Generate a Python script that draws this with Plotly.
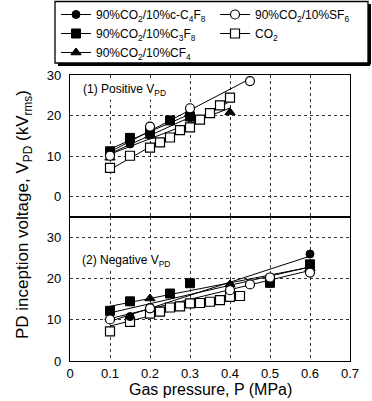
import numpy as np
import plotly.graph_objects as go
from plotly.subplots import make_subplots

# Axis ticks
pressure_ticks = [0, 0.1, 0.2, 0.3, 0.4, 0.5, 0.6, 0.7]
pressure_labels = ["0", "0.1", "0.2", "0.3", "0.4", "0.5", "0.6", "0.7"]
voltage_ticks = [0, 10, 20, 30]

# Gas mixtures (legend labels)
gas_c4f8 = "90%CO<sub>2</sub>/10%c-C<sub>4</sub>F<sub>8</sub>"
gas_c3f8 = "90%CO<sub>2</sub>/10%C<sub>3</sub>F<sub>8</sub>"
gas_cf4 = "90%CO<sub>2</sub>/10%CF<sub>4</sub>"
gas_sf6 = "90%CO<sub>2</sub>/10%SF<sub>6</sub>"
gas_co2 = "CO<sub>2</sub>"

# (1) Positive PD inception voltage, kVrms
pos_c4f8_p = [0.1, 0.15, 0.2, 0.3]
pos_c4f8_v = [10.5, 13.0, 15.2, 19.5]
pos_c3f8_p = [0.1, 0.15, 0.2, 0.25, 0.3]
pos_c3f8_v = [11.2, 14.5, 16.0, 18.8, 19.8]
pos_cf4_p = [0.1, 0.2, 0.3, 0.4]
pos_cf4_v = [9.6, 15.0, 19.3, 20.8]
pos_sf6_p = [0.1, 0.2, 0.3, 0.45]
pos_sf6_v = [10.1, 17.3, 21.8, 28.5]
pos_co2_p = [0.1, 0.15, 0.2, 0.225, 0.25, 0.275, 0.3, 0.325, 0.35, 0.375, 0.4]
pos_co2_v = [7.1, 10.1, 12.1, 13.4, 14.6, 16.4, 17.1, 19.0, 20.6, 22.5, 24.4]

# (2) Negative PD inception voltage, kVrms
neg_c4f8_p = [0.1, 0.15, 0.2, 0.4, 0.6]
neg_c4f8_v = [10.2, 10.8, 13.0, 18.3, 26.0]
neg_c3f8_p = [0.1, 0.15, 0.25, 0.3, 0.5, 0.6]
neg_c3f8_v = [12.2, 14.5, 16.4, 18.9, 19.0, 23.5]
neg_cf4_p = [0.1, 0.2, 0.4, 0.6]
neg_cf4_v = [10.6, 15.2, 18.6, 22.5]
neg_sf6_p = [0.1, 0.2, 0.4, 0.45, 0.5, 0.6]
neg_sf6_v = [10.1, 12.8, 17.2, 18.6, 20.3, 21.5]
neg_co2_p = [0.1, 0.15, 0.2, 0.225, 0.25, 0.275, 0.3, 0.325, 0.35, 0.375, 0.4, 0.425]
neg_co2_v = [7.2, 9.5, 11.5, 12.0, 13.0, 13.3, 14.0, 14.1, 14.4, 14.8, 15.6, 15.8]

FONT = "Liberation Sans, Arial, sans-serif"

# marker style per gas
styles = {
    "c4f8": dict(symbol="circle", size=8, color="black", line=dict(color="black", width=1)),
    "c3f8": dict(symbol="square", size=9, color="black", line=dict(color="black", width=1)),
    "cf4": dict(symbol="triangle-up", size=9, color="black", line=dict(color="black", width=1)),
    "sf6": dict(symbol="circle", size=9, color="white", line=dict(color="black", width=1.2)),
    "co2": dict(symbol="square", size=9, color="white", line=dict(color="black", width=1.2)),
}

fig = make_subplots(rows=2, cols=1, shared_xaxes=True, vertical_spacing=0,
                    row_heights=[142, 144])

panels = [
    (1, {"co2": (pos_co2_p, pos_co2_v), "c3f8": (pos_c3f8_p, pos_c3f8_v),
         "cf4": (pos_cf4_p, pos_cf4_v), "c4f8": (pos_c4f8_p, pos_c4f8_v),
         "sf6": (pos_sf6_p, pos_sf6_v)}),
    (2, {"co2": (neg_co2_p, neg_co2_v), "c3f8": (neg_c3f8_p, neg_c3f8_v),
         "cf4": (neg_cf4_p, neg_cf4_v), "c4f8": (neg_c4f8_p, neg_c4f8_v),
         "sf6": (neg_sf6_p, neg_sf6_v)}),
]

# least-squares trend line through each series
for row, series in panels:
    for key, (p, v) in series.items():
        slope, icpt = np.polyfit(p, v, 1)
        xs = np.array([min(p), max(p)])
        fig.add_trace(go.Scatter(x=xs, y=slope * xs + icpt, mode="lines",
                                 line=dict(color="black", width=1),
                                 showlegend=False, hoverinfo="skip"),
                      row=row, col=1)

for row, series in panels:
    for key, (p, v) in series.items():
        fig.add_trace(go.Scatter(x=p, y=v, mode="markers", marker=styles[key],
                                 showlegend=False),
                      row=row, col=1)

# legend entries (line + symbol)
legend_items = [
    (gas_c4f8, "c4f8", "legend"),
    (gas_c3f8, "c3f8", "legend"),
    (gas_cf4, "cf4", "legend"),
    (gas_sf6, "sf6", "legend2"),
    (gas_co2, "co2", "legend2"),
]
for name, key, lg in legend_items:
    fig.add_trace(go.Scatter(x=[None], y=[None], mode="lines+markers", name=name,
                             marker=styles[key], line=dict(color="black", width=1),
                             legend=lg), row=1, col=1)

axis_common = dict(showline=True, linecolor="black", linewidth=1.2, mirror=True,
                   showgrid=True, gridcolor="#333", gridwidth=1, griddash="dot",
                   zeroline=False, tickfont=dict(family=FONT, size=13, color="black"))

fig.update_xaxes(range=[0, 0.7], tickvals=pressure_ticks, ticktext=pressure_labels,
                 ticks="", **axis_common)
fig.update_xaxes(showticklabels=False, row=1, col=1)
fig.update_yaxes(tickvals=voltage_ticks, ticks="outside", ticklen=5,
                 tickcolor="rgba(0,0,0,0)", **axis_common)
fig.update_yaxes(range=[-5, 30], row=1, col=1)
fig.update_yaxes(range=[0, 35], row=2, col=1)

# legend frame position in pixels
L, T = 70.0, 75.0
PW, PH = 280.0, 286.0


def px(xp):
    return (xp - L) / PW


def py(yp):
    return (T + PH - yp) / PH


legend_font = dict(family=FONT, size=12, color="black")
fig.update_layout(
    width=372, height=401,
    margin=dict(l=70, r=22, t=75, b=40, autoexpand=False),
    paper_bgcolor="white", plot_bgcolor="white",
    legend=dict(x=px(56), y=py(0), xanchor="left", yanchor="top",
                bgcolor="rgba(0,0,0,0)", borderwidth=0, font=legend_font,
                tracegroupgap=0, itemwidth=30),
    legend2=dict(x=px(215), y=py(0), xanchor="left", yanchor="top",
                 bgcolor="rgba(0,0,0,0)", borderwidth=0, font=legend_font,
                 tracegroupgap=0, itemwidth=30),
    shapes=[
        dict(type="rect", xref="paper", yref="paper", x0=px(55), x1=px(368),
             y0=py(63), y1=py(1.5), line=dict(color="black", width=1.3)),
        dict(type="line", xref="paper", yref="paper", x0=px(58), x1=px(370),
             y0=py(64.5), y1=py(64.5), line=dict(color="black", width=3)),
        dict(type="line", xref="paper", yref="paper", x0=px(369.5), x1=px(369.5),
             y0=py(4), y1=py(64.5), line=dict(color="black", width=3)),
    ],
    annotations=[
        dict(text="(1) Positive V<sub>PD</sub>", xref="x", yref="y", x=0.028, y=26.4,
             xanchor="left", yanchor="middle", showarrow=False, bgcolor="white",
             font=dict(family=FONT, size=12, color="black")),
        dict(text="(2) Negative V<sub>PD</sub>", xref="x2", yref="y2", x=0.024, y=24.2,
             xanchor="left", yanchor="middle", showarrow=False, bgcolor="white",
             font=dict(family=FONT, size=12, color="black")),
        dict(text="PD inception voltage, V<sub>PD</sub> (kV<sub>rms</sub>)",
             xref="paper", yref="paper", x=px(24), y=py(215), textangle=-90,
             xanchor="center", yanchor="middle", showarrow=False,
             font=dict(family=FONT, size=17, color="black")),
        dict(text="Gas pressure, P (MPa)", xref="paper", yref="paper",
             x=px(210), y=py(389), xanchor="center", yanchor="middle",
             showarrow=False, font=dict(family=FONT, size=16, color="black")),
    ],
)

fig.write_html("out.html")
